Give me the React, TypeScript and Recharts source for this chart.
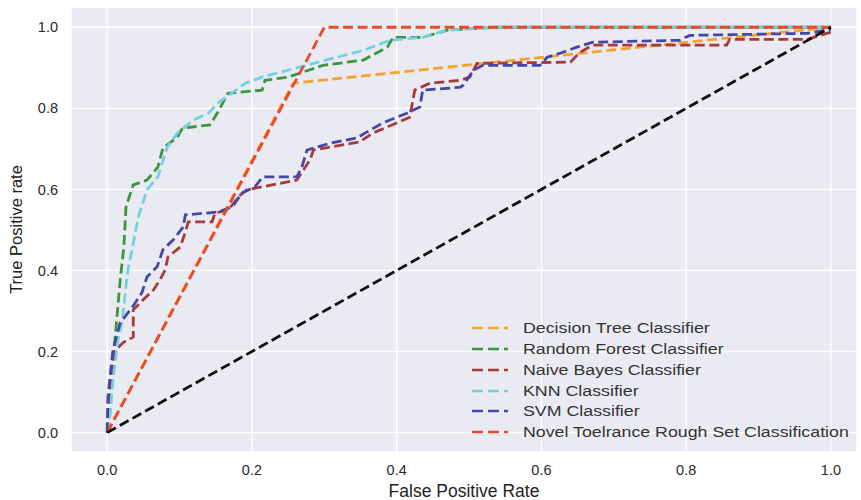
import { LineChart, Line, XAxis, YAxis, CartesianGrid, Label } from "recharts";

// ROC points: [false positive rate, true positive rate]
const decisionTree = [
  [0, 0], [0.257, 0.862], [1, 1],
];

const randomForest = [
  [0, 0], [0.004, 0.074], [0.008, 0.172], [0.014, 0.296], [0.018, 0.377],
  [0.023, 0.458], [0.026, 0.557], [0.036, 0.611], [0.055, 0.623], [0.07, 0.655],
  [0.077, 0.702], [0.097, 0.729], [0.104, 0.751], [0.142, 0.759], [0.153, 0.791],
  [0.167, 0.837], [0.214, 0.845], [0.218, 0.869], [0.25, 0.877], [0.298, 0.906],
  [0.354, 0.919], [0.387, 0.951], [0.395, 0.975], [0.436, 0.975], [0.47, 0.993],
  [0.539, 1.0], [1, 1],
];

const naiveBayes = [
  [0, 0], [0.003, 0.1], [0.01, 0.2], [0.022, 0.222], [0.036, 0.236],
  [0.036, 0.303], [0.05, 0.328], [0.064, 0.352], [0.073, 0.377], [0.08, 0.401],
  [0.084, 0.433], [0.101, 0.458], [0.108, 0.495], [0.112, 0.52], [0.145, 0.52],
  [0.149, 0.542], [0.167, 0.549], [0.184, 0.586], [0.193, 0.599], [0.262, 0.623],
  [0.28, 0.672], [0.285, 0.697], [0.349, 0.717], [0.367, 0.739], [0.387, 0.754],
  [0.418, 0.778], [0.425, 0.845], [0.446, 0.862], [0.488, 0.869], [0.501, 0.877],
  [0.511, 0.911], [0.64, 0.914], [0.653, 0.938], [0.671, 0.956], [0.856, 0.956],
  [0.86, 0.97], [0.967, 0.97], [0.985, 0.98], [1, 0.988],
];

const knn = [
  [0, 0], [0.004, 0.044], [0.008, 0.13], [0.015, 0.229], [0.021, 0.278],
  [0.028, 0.394], [0.035, 0.458], [0.043, 0.532], [0.055, 0.599], [0.07, 0.631],
  [0.083, 0.704], [0.097, 0.739], [0.119, 0.771], [0.14, 0.788], [0.153, 0.813],
  [0.191, 0.862], [0.214, 0.877], [0.26, 0.899], [0.285, 0.911], [0.354, 0.943],
  [0.391, 0.968], [0.436, 0.975], [0.47, 0.993], [0.539, 1.0], [1, 1],
];

const svm = [
  [0, 0], [0.001, 0.089], [0.008, 0.204], [0.018, 0.271], [0.035, 0.31],
  [0.048, 0.345], [0.055, 0.384], [0.069, 0.409], [0.077, 0.451], [0.091, 0.475],
  [0.105, 0.507], [0.108, 0.537], [0.153, 0.544], [0.173, 0.557], [0.186, 0.591],
  [0.204, 0.606], [0.215, 0.631], [0.262, 0.631], [0.269, 0.655], [0.276, 0.697],
  [0.308, 0.714], [0.345, 0.727], [0.363, 0.746], [0.381, 0.764], [0.414, 0.788],
  [0.432, 0.803], [0.436, 0.845], [0.488, 0.852], [0.492, 0.857], [0.506, 0.894],
  [0.519, 0.906], [0.598, 0.906], [0.608, 0.926], [0.626, 0.936], [0.649, 0.951],
  [0.671, 0.963], [0.791, 0.968], [0.805, 0.98], [0.967, 0.985], [1, 0.995],
];

const novelRoughSet = [
  [0, 0], [0.3, 1.0], [1, 1],
];

const chance = [
  [0, 0], [1, 1],
];

const ticks = [0, 0.2, 0.4, 0.6, 0.8, 1.0];

const toPoints = (arr: number[][]) => arr.map(([x, y]) => ({ x, y }));

const series = [
  { name: "Decision Tree Classifier", color: "#f5a22e", data: decisionTree },
  { name: "Random Forest Classifier", color: "#3a963f", data: randomForest },
  { name: "Naive Bayes Classifier", color: "#a83a3a", data: naiveBayes },
  { name: "KNN Classifier", color: "#72d0e2", data: knn },
  { name: "SVM Classifier", color: "#4646aa", data: svm },
  { name: "Novel Toelrance Rough Set Classification", color: "#ea4a2a", data: novelRoughSet },
];

const font = "'Liberation Sans', Arial, sans-serif";
const textColor = "#2a2a2a";

const LegendBox = () => (
  <div
    style={{
      position: "absolute",
      left: 472,
      top: 318,
      fontFamily: font,
      fontSize: 14,
      color: "#333",
    }}
  >
    {series.map((s) => (
      <div key={s.name} style={{ display: "flex", alignItems: "center", height: 20.75 }}>
        <svg width={36} height={10} style={{ display: "block" }}>
          <line x1={0} y1={5} x2={36} y2={5} stroke={s.color} strokeWidth={2.6} strokeDasharray="11 5" />
        </svg>
        <span
          style={{
            marginLeft: 15,
            whiteSpace: "nowrap",
            display: "inline-block",
            transform: "scaleX(1.27)",
            transformOrigin: "left center",
          }}
        >
          {s.name}
        </span>
      </div>
    ))}
  </div>
);

export default function App() {
  return (
    <div style={{ position: "relative", width: 861, height: 500, background: "#fff" }}>
      <style>{"body{margin:0}"}</style>
      <LineChart width={861} height={500} margin={{ top: 7, right: 4, left: 0, bottom: 0 }}>
        <CartesianGrid fill="#eaeaf2" stroke="#ffffff" strokeWidth={1.3} />
        <XAxis
          type="number"
          dataKey="x"
          domain={[-0.05, 1.036]}
          allowDataOverflow
          ticks={ticks}
          tickFormatter={(v: number) => v.toFixed(1)}
          axisLine={false}
          tickLine={false}
          tickSize={0}
          tickMargin={13}
          height={48}
          tick={{ fill: textColor, fontSize: 14.5, fontFamily: font }}
        >
          <Label
            value="False Positive Rate"
            position="insideBottom"
            offset={3}
            style={{ fill: "#222", fontSize: 17.5, fontFamily: font }}
          />
        </XAxis>
        <YAxis
          type="number"
          domain={[-0.048, 1.05]}
          allowDataOverflow
          ticks={ticks}
          tickFormatter={(v: number) => v.toFixed(1)}
          axisLine={false}
          tickLine={false}
          tickSize={0}
          tickMargin={13}
          width={71}
          tick={{ fill: textColor, fontSize: 14.5, fontFamily: font }}
        >
          <Label
            value="True Positive rate"
            angle={-90}
            position="insideLeft"
            offset={16}
            style={{ fill: "#222", fontSize: 16.5, fontFamily: font, textAnchor: "middle" }}
          />
        </YAxis>
        {series.map((s) => (
          <Line
            key={s.name}
            data={toPoints(s.data)}
            dataKey="y"
            name={s.name}
            type="linear"
            stroke={s.color}
            strokeWidth={2.8}
            strokeDasharray="10 4.5"
            dot={false}
            activeDot={false}
            isAnimationActive={false}
          />
        ))}
        <Line
          data={toPoints(chance)}
          dataKey="y"
          name="chance"
          type="linear"
          stroke="#111"
          strokeWidth={2.8}
          strokeDasharray="10 4.5"
          dot={false}
          activeDot={false}
          isAnimationActive={false}
        />
      </LineChart>
      <LegendBox />
    </div>
  );
}
